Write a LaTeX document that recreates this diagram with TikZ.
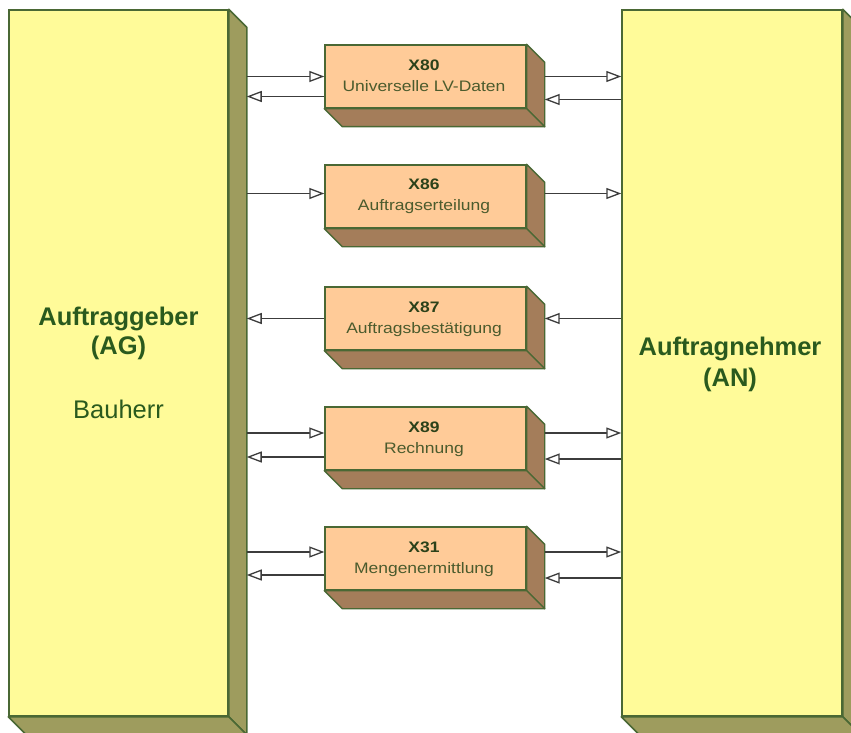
\documentclass[tikz,border=0pt]{standalone}
\usepackage{fontspec}
\setmainfont{Liberation Sans}
\newfontfamily\boxfont[FakeStretch=1.15]{Liberation Sans}
\usetikzlibrary{arrows.meta,calc}
\definecolor{bigface}{HTML}{FFFB99}
\definecolor{bigsidec}{HTML}{9E9C5E}
\definecolor{smallface}{HTML}{FFCB98}
\definecolor{smallsidec}{HTML}{A47D5A}
\definecolor{edgec}{HTML}{4A6834}
\definecolor{arrowc}{HTML}{3C3C3C}
\definecolor{bigtext}{HTML}{2A5A1E}
\definecolor{smtitlec}{HTML}{2C421A}
\definecolor{smsubc}{HTML}{4B5B2D}
\newcommand\boxsides[3]{%
  \draw[#3] (#1.north east) -- ++(#2,#2) -- ($(#1.south east)+(#2,#2)$) -- (#1.south east) -- cycle;
  \draw[#3] (#1.south west) -- ++(#2,#2) -- ($(#1.south east)+(#2,#2)$) -- (#1.south east) -- cycle;}
\newcommand\cToBox[2]{\draw[arr] ($(ag.east |- #1.west)+(18,#2)$) -- ($(#1.west)+(0,#2)$);}
\newcommand\cToAG[2]{\draw[arr] ($(#1.west)+(0,#2)$) -- ($(ag.east |- #1.west)+(18,#2)$);}
\newcommand\cToAN[2]{\draw[arr] ($(#1.east)+(18,#2)$) -- ($(an.west |- #1.east)+(0,#2)$);}
\newcommand\cFromAN[2]{\draw[arr] ($(an.west |- #1.east)+(0,#2)$) -- ($(#1.east)+(18,#2)$);}
\begin{document}
\begin{tikzpicture}[x=1pt,y=-1pt,
  bigbox/.style={draw=edgec,line width=1.5pt,fill=bigface,minimum width=219pt,minimum height=706pt,inner sep=0pt},
  smallbox/.style={draw=edgec,line width=1.4pt,fill=smallface,minimum width=201pt,minimum height=63pt,inner sep=0pt},
  bigside/.style={draw=edgec,line width=1.5pt,fill=bigsidec,line join=round},
  smallside/.style={draw=edgec,line width=1.4pt,fill=smallsidec,line join=round},
  arr/.style={draw=arrowc,line width=1.3pt,-{Triangle[open,length=15pt,width=11pt,line width=1.3pt,fill=white]}},
  bigtitle/.style={anchor=base,text=bigtext,inner sep=0pt,font=\fontsize{25.5}{30}\selectfont\bfseries},
  bignormal/.style={anchor=base,text=bigtext,inner sep=0pt,font=\fontsize{25.5}{30}\selectfont},
  smtitle/.style={anchor=base,text=smtitlec,inner sep=0pt,font=\boxfont\fontsize{15.2}{18}\selectfont\bfseries},
  smsub/.style={anchor=base,text=smsubc,inner sep=0pt,font=\boxfont\fontsize{15.2}{18}\selectfont}
]
\useasboundingbox (0,0) rectangle (851,733);
\clip (0,0) rectangle (851,733);
% big boxes
\node[bigbox] (ag) at (118.5,363) {};
\boxsides{ag}{18}{bigside}
\node[bigbox,minimum width=220pt] (an) at (732,363) {};
\boxsides{an}{18}{bigside}
% small boxes
\foreach \nm/\yy in {x80/76.5,x86/196.5,x87/318.5,x89/438.5,x31/558.5}{
  \node[smallbox] (\nm) at (425.5,\yy) {};
  \boxsides{\nm}{18}{smallside}
}
% small box texts
\node[smtitle] (x80a) at ($(x80.center)+(-1.5,-6)$) {X80};
\node[smsub] (x80b) at ($(x80.center)+(-1.5,15)$) {Universelle LV-Daten};
\node[smtitle] (x86a) at ($(x86.center)+(-1.5,-7)$) {X86};
\node[smsub] (x86b) at ($(x86.center)+(-1.5,14)$) {Auftragserteilung};
\node[smtitle] (x87a) at ($(x87.center)+(-1.5,-6.5)$) {X87};
\node[smsub] (x87b) at ($(x87.center)+(-1.5,14.5)$) {Auftragsbestätigung};
\node[smtitle] (x89a) at ($(x89.center)+(-1.5,-6.5)$) {X89};
\node[smsub] (x89b) at ($(x89.center)+(-1.5,14.5)$) {Rechnung};
\node[smtitle] (x31a) at ($(x31.center)+(-1.5,-6.5)$) {X31};
\node[smsub] (x31b) at ($(x31.center)+(-1.5,14.5)$) {Mengenermittlung};
% big texts
\node[bigtitle] (agt1) at (118.5,325) {Auftraggeber};
\node[bigtitle] (agt2) at (118.5,354) {(AG)};
\node[bignormal] (agt3) at (118.5,418) {Bauherr};
\node[bigtitle] (ant1) at (730,355) {Auftragnehmer};
\node[bigtitle] (ant2) at (730,386) {(AN)};
% connectors
\cToBox{x80}{0}
\cToAG{x80}{20}
\cToAN{x80}{0}
\cFromAN{x80}{23}
\cToBox{x86}{-3}
\cToAN{x86}{-3}
\cToAG{x87}{0}
\cFromAN{x87}{0}
\cToBox{x89}{-5.5}
\cToAG{x89}{18.5}
\cToAN{x89}{-5.5}
\cFromAN{x89}{20.5}
\cToBox{x31}{-6.5}
\cToAG{x31}{16.5}
\cToAN{x31}{-6.5}
\cFromAN{x31}{19.5}
\end{tikzpicture}
\end{document}
